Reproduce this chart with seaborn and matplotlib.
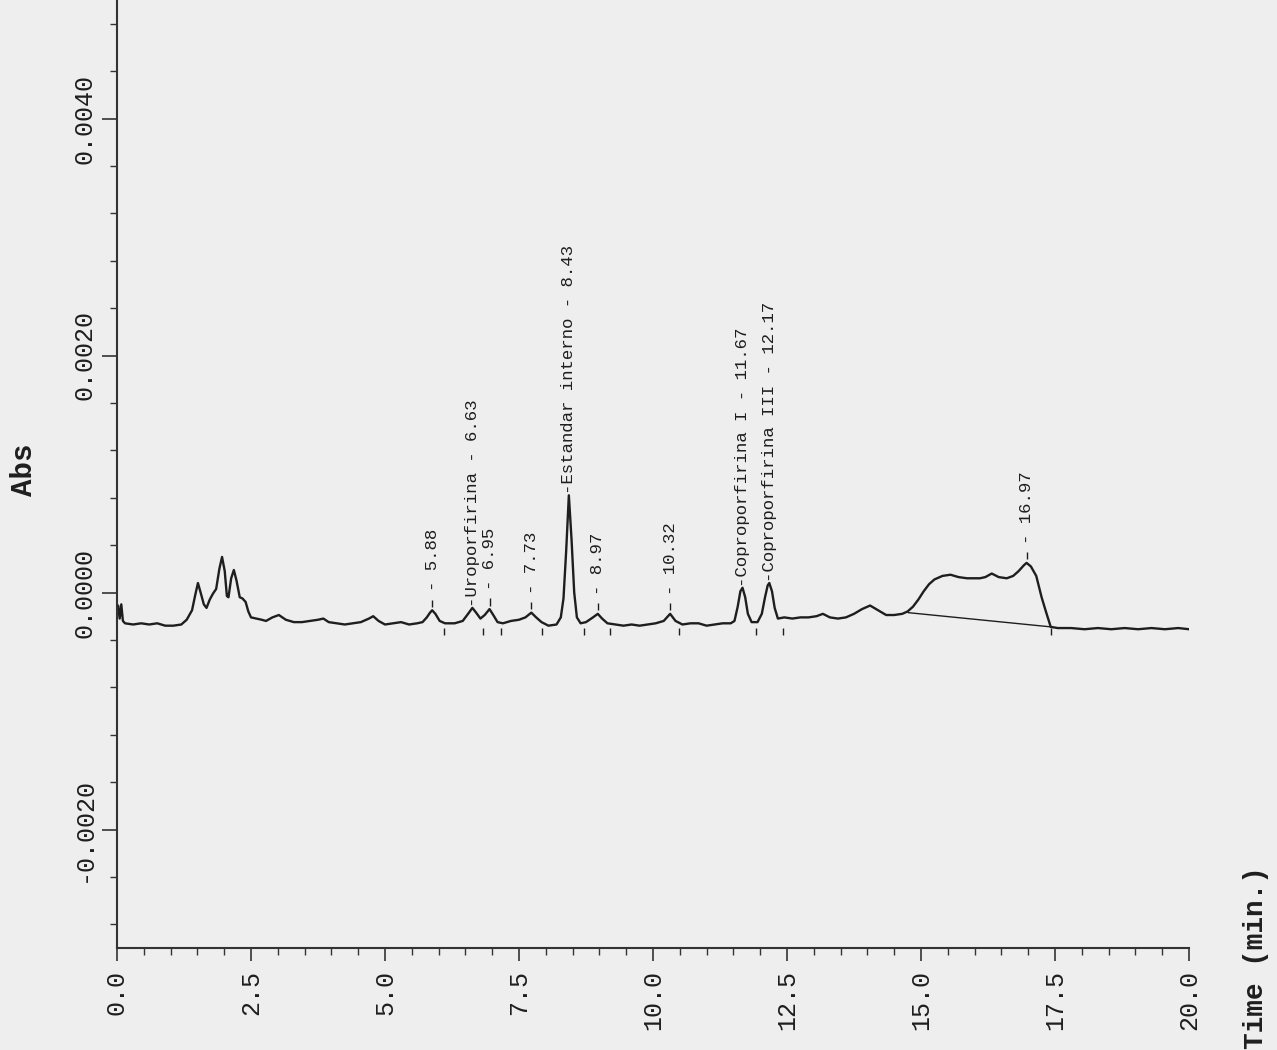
import matplotlib
matplotlib.use("Agg")
import matplotlib.pyplot as plt
import seaborn as sns
import pandas as pd
from matplotlib.ticker import MultipleLocator, FuncFormatter

# ---------------- data ----------------
time_min = [0.00, 0.02, 0.05, 0.08, 0.11, 0.15, 0.30, 0.45, 0.60, 0.75, 0.90, 1.05, 1.20,
            1.30, 1.40, 1.46, 1.51, 1.56, 1.62, 1.67, 1.73, 1.79, 1.85, 1.91, 1.96, 2.01,
            2.05, 2.08, 2.13, 2.18, 2.23, 2.29, 2.34, 2.40, 2.45, 2.50, 2.60, 2.70, 2.78,
            2.90, 3.02, 3.15, 3.30, 3.45, 3.60, 3.75, 3.85, 3.95, 4.10, 4.25, 4.40, 4.55,
            4.70, 4.78, 4.88, 5.00, 5.15, 5.30, 5.45, 5.60, 5.70, 5.78, 5.84, 5.88, 5.94,
            6.02, 6.12, 6.30, 6.45, 6.55, 6.63, 6.70, 6.78, 6.86, 6.95, 7.02, 7.10, 7.20,
            7.35, 7.50, 7.62, 7.73, 7.82, 7.92, 8.05, 8.20, 8.28, 8.33, 8.38, 8.43, 8.48,
            8.53, 8.58, 8.65, 8.75, 8.88, 8.97, 9.05, 9.15, 9.30, 9.45, 9.60, 9.75, 9.90,
            10.05, 10.20, 10.32, 10.42, 10.55, 10.70, 10.85, 11.00, 11.15, 11.30, 11.45,
            11.52, 11.58, 11.63, 11.67, 11.72, 11.77, 11.84, 11.95, 12.03, 12.09, 12.14,
            12.17, 12.22, 12.27, 12.33, 12.45, 12.60, 12.75, 12.90, 13.05, 13.17, 13.30,
            13.45, 13.60, 13.75, 13.90, 14.05, 14.20, 14.35, 14.50, 14.65, 14.75, 14.85,
            14.95, 15.05, 15.15, 15.25, 15.40, 15.55, 15.70, 15.86, 16.00, 16.10, 16.20,
            16.32, 16.45, 16.60, 16.72, 16.82, 16.92, 16.97, 17.05, 17.15, 17.25, 17.33,
            17.42, 17.55, 17.80, 18.05, 18.30, 18.55, 18.80, 19.05, 19.30, 19.55, 19.80,
            20.00]
absorbance = [-0.00016, -0.00011, -0.00022, -0.00010, -0.00024, -0.00026, -0.00027, -0.00026,
              -0.00027, -0.00026, -0.00028, -0.00028, -0.00027, -0.00023, -0.00015, -0.00002,
              0.00008, 0.00000, -0.00010, -0.00013, -0.00006, -0.00001, 0.00003, 0.00020,
              0.00030, 0.00018, -0.00003, -0.00004, 0.00012, 0.00019, 0.00010, -0.00004,
              -0.00005, -0.00008, -0.00016, -0.00021, -0.00022, -0.00023, -0.00024, -0.00021,
              -0.00019, -0.00023, -0.00025, -0.00025, -0.00024, -0.00023, -0.00022, -0.00025,
              -0.00026, -0.00027, -0.00026, -0.00025, -0.00022, -0.00020, -0.00024, -0.00027,
              -0.00026, -0.00025, -0.00027, -0.00026, -0.00025, -0.00021, -0.00017, -0.00015,
              -0.00018, -0.00024, -0.00026, -0.00026, -0.00024, -0.00018, -0.00013, -0.00017,
              -0.00022, -0.00019, -0.00014, -0.00019, -0.00025, -0.00026, -0.00024, -0.00023,
              -0.00021, -0.00017, -0.00021, -0.00025, -0.00028, -0.00027, -0.00021, -0.00005,
              0.00035, 0.00082, 0.00045, 0.00000, -0.00021, -0.00026, -0.00025, -0.00021,
              -0.00018, -0.00022, -0.00026, -0.00027, -0.00028, -0.00027, -0.00028, -0.00027,
              -0.00026, -0.00024, -0.00018, -0.00024, -0.00027, -0.00026, -0.00026, -0.00028,
              -0.00027, -0.00026, -0.00026, -0.00024, -0.00012, 0.00001, 0.00004, -0.00004,
              -0.00018, -0.00025, -0.00025, -0.00018, -0.00004, 0.00006, 0.00008, 0.00001,
              -0.00013, -0.00022, -0.00021, -0.00022, -0.00021, -0.00021, -0.00020, -0.00018,
              -0.00021, -0.00022, -0.00021, -0.00018, -0.00014, -0.00011, -0.00015, -0.00019,
              -0.00019, -0.00018, -0.00016, -0.00012, -0.00006, 0.00001, 0.00007, 0.00011,
              0.00014, 0.00015, 0.00013, 0.00012, 0.00012, 0.00012, 0.00013, 0.00016,
              0.00013, 0.00012, 0.00014, 0.00018, 0.00023, 0.00025, 0.00022, 0.00014,
              -0.00004, -0.00016, -0.00029, -0.00030, -0.00030, -0.00031, -0.00030, -0.00031,
              -0.00030, -0.00031, -0.00030, -0.00031, -0.00030, -0.00031]

peak_times = [5.88, 6.63, 6.95, 7.73, 8.43, 8.97, 10.32, 11.67, 12.17, 16.97]
peak_apex = [-0.00015, -0.00013, -0.00014, -0.00017, 0.00082, -0.00018, -0.00018,
             0.00004, 0.00008, 0.00025]
peak_names = ["", "Uroporfirina", "", "", "Estandar interno", "", "",
              "Coproporfirina I", "Coproporfirina III", ""]
peak_end_times = [6.10, 6.83, 7.16, 7.93, 8.71, 9.20, 10.49, 11.92, 12.43, 17.42]

hump_base_t = [14.76, 17.42]
hump_base_v = [-0.00017, -0.00029]

y_ticks = [-0.0020, 0.0000, 0.0020, 0.0040]
x_ticks = [0.0, 2.5, 5.0, 7.5, 10.0, 12.5, 15.0, 17.5, 20.0]

# ---------------- style ----------------
sns.set_theme(style="ticks")
mono = ["Liberation Mono", "DejaVu Sans Mono"]
plt.rcParams["font.family"] = mono
bg = "#eeeeee"
ink = "#1e1e1e"

fig = plt.figure(figsize=(12.77, 10.50), dpi=100, facecolor=bg)
ax = fig.add_axes([117 / 1277, 1 - 948 / 1050, (1189 - 117) / 1277, 948 / 1050])
ax.set_facecolor(bg)

df = pd.DataFrame({"Time": time_min, "Abs": absorbance})
sns.lineplot(data=df, x="Time", y="Abs", ax=ax, color=ink, linewidth=1.7,
             estimator=None, sort=False)

# integration baseline under the broad hump
sns.lineplot(x=hump_base_t, y=hump_base_v, ax=ax, color=ink, linewidth=1.0,
             estimator=None, sort=False)

ax.set_xlim(0, 20)
ax.set_ylim(-0.003, 0.005)

# peak annotations
for t, a, name in zip(peak_times, peak_apex, peak_names):
    if name:
        ax.text(t, a + 0.00001, f"-{name} - {t:.2f}", rotation=90, ha="center",
                va="bottom", fontsize=12.5, color=ink, family=mono)
    else:
        ax.vlines(t, a + 0.00003, a + 0.00009, color=ink, linewidth=1.0)
        ax.text(t, a + 0.00016, f"- {t:.2f}", rotation=90, ha="center",
                va="bottom", fontsize=12.5, color=ink, family=mono)

# integration end markers below the baseline
ax.vlines(peak_end_times, -0.00036, -0.00030, color=ink, linewidth=1.0)

# axes, ticks
for s in ["top", "right"]:
    ax.spines[s].set_visible(False)
for s in ["left", "bottom"]:
    ax.spines[s].set_linewidth(1.5)
    ax.spines[s].set_color("#333333")

ax.set_yticks(y_ticks)
ax.yaxis.set_minor_locator(MultipleLocator(0.0004))
ax.set_xticks(x_ticks)
ax.xaxis.set_minor_locator(MultipleLocator(0.5))
ax.yaxis.set_major_formatter(FuncFormatter(lambda v, p: f"{v:.4f}"))
ax.xaxis.set_major_formatter(FuncFormatter(lambda v, p: f"{v:.1f}"))

ax.tick_params(axis="y", which="major", direction="out", length=11, width=1.2,
               colors="#333333", labelsize=18, pad=4, labelcolor=ink)
ax.tick_params(axis="y", which="minor", direction="out", length=5, width=1.0,
               colors="#333333")
ax.tick_params(axis="x", which="major", direction="out", length=9, width=1.2,
               colors="#333333", labelsize=18, pad=7, labelcolor=ink)
ax.tick_params(axis="x", which="minor", direction="out", length=5, width=1.0,
               colors="#333333")
for lab in ax.get_yticklabels():
    lab.set_rotation(90)
    lab.set_va("center")
    lab.set_ha("right")
    lab.set_rotation_mode("default")
for lab in ax.get_xticklabels():
    lab.set_rotation(90)
    lab.set_ha("center")
    lab.set_va("top")

ax.set_ylabel("Abs", fontsize=21, fontweight="bold", rotation=90, color=ink)
ax.yaxis.set_label_coords((38 - 117) / 1072, (948 - 470) / 948)
ax.set_xlabel("Time (min.)", fontsize=20, fontweight="bold", rotation=90, color=ink,
              ha="center", va="center")
ax.xaxis.set_label_coords((1256 - 117) / 1072, (948 - 958) / 948)

fig.savefig("out.png", dpi=100, facecolor=bg)
